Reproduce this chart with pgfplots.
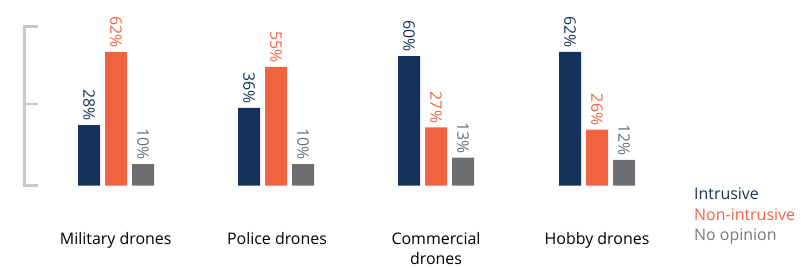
\documentclass[border=0pt]{standalone}
\usepackage{fontspec}
\setmainfont{Open Sans}
\usepackage{pgfplots}
\pgfplotsset{compat=1.18}
\definecolor{navy}{RGB}{20,50,90}
\definecolor{orng}{RGB}{240,99,64}
\definecolor{dgray}{RGB}{109,110,113}
\definecolor{lgray}{RGB}{120,120,124}
\definecolor{brgray}{RGB}{200,200,204}
\begin{document}
\begin{tikzpicture}
\begin{axis}[
  scale only axis, width=801bp, height=268bp,
  xmin=0, xmax=801, ymin=-38.1, ymax=85.97,
  hide axis, clip=false,
  ybar, bar width=22bp,
  nodes near coords={\pgfmathprintnumber[assume math mode=true]{\pgfplotspointmeta}\%},
  nodes near coords style={rotate=-90, anchor=east, font=\fontsize{16}{19}\selectfont, inner ysep=0pt, inner xsep=4bp},
]
\addplot[fill=navy, draw=none, bar shift=-27bp, nodes near coords style={text=navy}]
  coordinates {(116,28) (276,36) (436,60) (597,62)};
\addplot[fill=orng, draw=none, bar shift=0bp, nodes near coords style={text=orng}]
  coordinates {(116,62) (276,55) (436,27) (597,26)};
\addplot[fill=dgray, draw=none, bar shift=27bp, nodes near coords style={text=dgray}]
  coordinates {(116,10) (276,10) (436,13) (597,12)};

\draw[brgray, line width=2.5bp] (axis cs:38,0) -- (axis cs:24.7,0) -- (axis cs:24.7,73.6) -- (axis cs:38,73.6);
\draw[brgray, line width=2.5bp] (axis cs:24.7,37.8) -- (axis cs:38,37.8);

\begin{scope}[every node/.style={font=\fontsize{16}{19}\selectfont, anchor=base, inner sep=0pt}]
\node at (axis cs:115.7,-27.1) {Military drones};
\node at (axis cs:277,-27.1) {Police drones};
\node at (axis cs:436,-27.1) {Commercial};
\node at (axis cs:436,-36.3) {drones};
\node at (axis cs:597,-27.1) {Hobby drones};
\node[anchor=base west, text=navy] at (axis cs:694,-6.3) {Intrusive};
\node[anchor=base west, text=orng] at (axis cs:694,-16.0) {Non-intrusive};
\node[anchor=base west, text=lgray] at (axis cs:694,-25.6) {No opinion};
\end{scope}
\end{axis}
\pgfresetboundingbox
\path (current axis.south west) rectangle (current axis.north east);
\end{tikzpicture}
\end{document}
